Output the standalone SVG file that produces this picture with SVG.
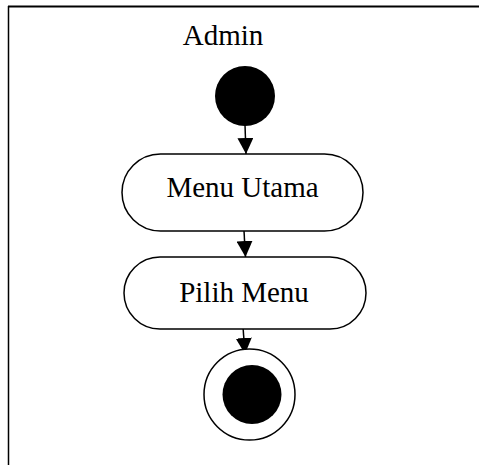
<svg xmlns="http://www.w3.org/2000/svg" width="479" height="465" viewBox="0 0 479 465">
<defs>
<style>
.t{font-family:"Liberation Serif","Times New Roman",serif;font-size:29px;fill:#000;text-anchor:middle}
.box{fill:#fff;stroke:#000;stroke-width:1.5}
.edge{stroke:#000;stroke-width:1.5;fill:none}
</style>
<marker id="arr" viewBox="0 0 16 16" refX="16" refY="8" markerWidth="16" markerHeight="16" markerUnits="userSpaceOnUse" orient="auto">
<path d="M0,0 L16,8 L0,16 Z" fill="#000"/>
</marker>
</defs>
<rect width="479" height="465" fill="#fff"/>
<g id="frame">
<line x1="8" y1="6.5" x2="479" y2="6.5" stroke="#000" stroke-width="2"/>
<line x1="8.5" y1="6" x2="8.5" y2="465" stroke="#000" stroke-width="1.5"/>
<text class="t" x="223" y="45">Admin</text>
</g>
<g id="connectors">
<line class="edge" x1="245" y1="125" x2="246" y2="154" marker-end="url(#arr)"/>
<line class="edge" x1="244" y1="231" x2="245.5" y2="257" marker-end="url(#arr)"/>
<line class="edge" x1="243" y1="327" x2="245" y2="354" marker-end="url(#arr)"/>
</g>
<g id="start">
<circle cx="245" cy="96" r="30" fill="#000"/>
</g>
<g id="menu-utama">
<rect class="box" x="122" y="154" width="241" height="77" rx="38.5"/>
<text class="t" x="242.5" y="197">Menu Utama</text>
</g>
<g id="pilih-menu">
<rect class="box" x="124" y="257" width="242" height="72" rx="36"/>
<text class="t" x="244" y="302">Pilih Menu</text>
</g>
<g id="end">
<circle cx="249.5" cy="394.5" r="45.5" fill="#fff" stroke="#000" stroke-width="1.5"/>
<circle cx="252" cy="394.5" r="29.5" fill="#000"/>
</g>
</svg>
